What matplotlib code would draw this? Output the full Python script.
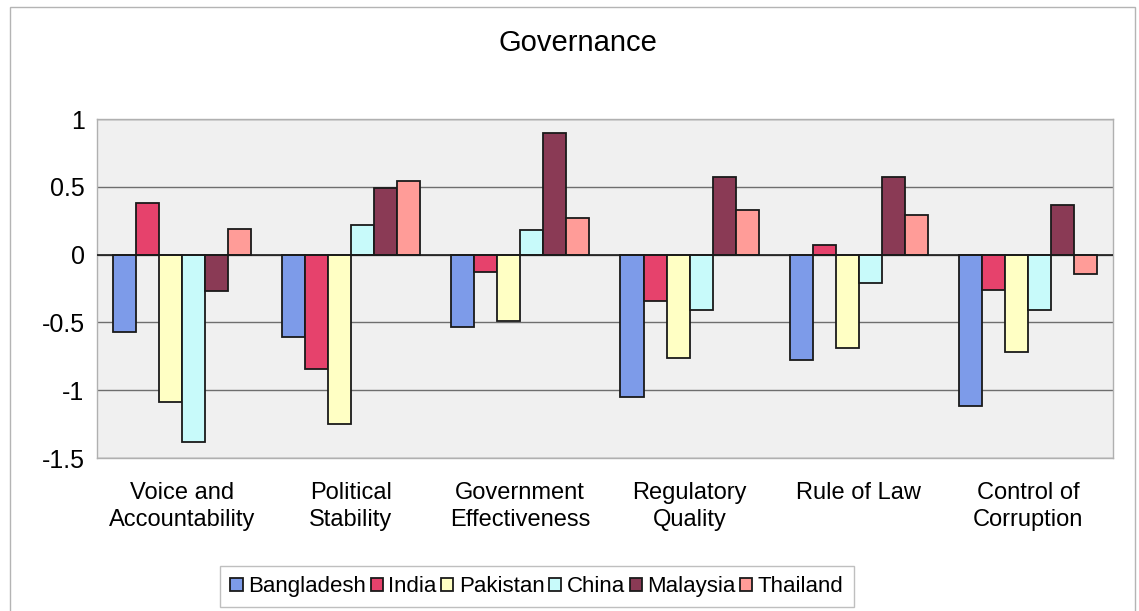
import matplotlib
matplotlib.use("Agg")
import matplotlib.pyplot as plt
import numpy as np
from matplotlib.patches import Rectangle

plt.rcParams['font.family'] = ['Liberation Sans', 'DejaVu Sans']

categories = ["Voice and\nAccountability", "Political\nStability", "Government\nEffectiveness",
              "Regulatory\nQuality", "Rule of Law", "Control of\nCorruption"]
countries = ["Bangladesh", "India", "Pakistan", "China", "Malaysia", "Thailand"]

bangladesh = [-0.57, -0.61, -0.53, -1.05, -0.78, -1.12]
india = [0.38, -0.84, -0.13, -0.34, 0.07, -0.26]
pakistan = [-1.09, -1.25, -0.49, -0.76, -0.69, -0.72]
china = [-1.38, 0.22, 0.18, -0.41, -0.21, -0.41]
malaysia = [-0.27, 0.49, 0.90, 0.57, 0.57, 0.37]
thailand = [0.19, 0.54, 0.27, 0.33, 0.29, -0.14]

series = [bangladesh, india, pakistan, china, malaysia, thailand]
colors = ["#7d9be9", "#e6426c", "#ffffc4", "#c8fafa", "#8a3a55", "#ff9c98"]

fig = plt.figure(figsize=(11.39, 6.11), dpi=100)
fig.patch.set_facecolor("white")
# chart-area frame (bottom edge runs past the canvas)
fig.patches.append(Rectangle((0.0088, -0.02), 0.9877, 1.0085, transform=fig.transFigure,
                             fill=False, edgecolor="#b4b4b4", linewidth=1))

ax = fig.add_axes([0.0852, 0.2504, 0.8918, 0.5546])
ax.set_facecolor("#f0f0f0")

x = np.arange(len(categories))
width = 0.136
for i, (vals, col, name) in enumerate(zip(series, colors, countries)):
    offs = (i - 2.5) * width
    ax.bar(x + offs, vals, width, color=col, edgecolor="#1a1a1a", linewidth=1.3,
           label=name, zorder=3)

ax.set_xlim(-0.5, len(categories) - 0.5)
ax.set_ylim(-1.5, 1.0)
ax.set_yticks([-1.5, -1, -0.5, 0, 0.5, 1])
ax.set_yticklabels(["-1.5", "-1", "-0.5", "0", "0.5", "1"], fontsize=18)
ax.yaxis.grid(True, color="#6e6e6e", linewidth=1.0, zorder=1)
ax.axhline(0, color="#1a1a1a", linewidth=1.2, zorder=4)
ax.set_xticks(x)
ax.set_xticklabels(categories, fontsize=17, linespacing=1.3)
ax.tick_params(axis="y", length=0, pad=9)
ax.tick_params(axis="x", length=0, pad=17)
for s in ax.spines.values():
    s.set_color("#b0b0b0")
    s.set_linewidth(1.0)

fig.text(0.507, 0.93, "Governance", ha="center", va="center", fontsize=21)

leg = fig.legend(loc="center", bbox_to_anchor=(0.4715, 0.0393), ncol=6, fontsize=16,
                 frameon=True, fancybox=False, edgecolor="#b0b0b0", handlelength=0.55,
                 handleheight=0.55, handletextpad=0.25, columnspacing=0.2, borderpad=0.45)
leg.get_frame().set_linewidth(1.0)

fig.savefig("out.png", dpi=100)
